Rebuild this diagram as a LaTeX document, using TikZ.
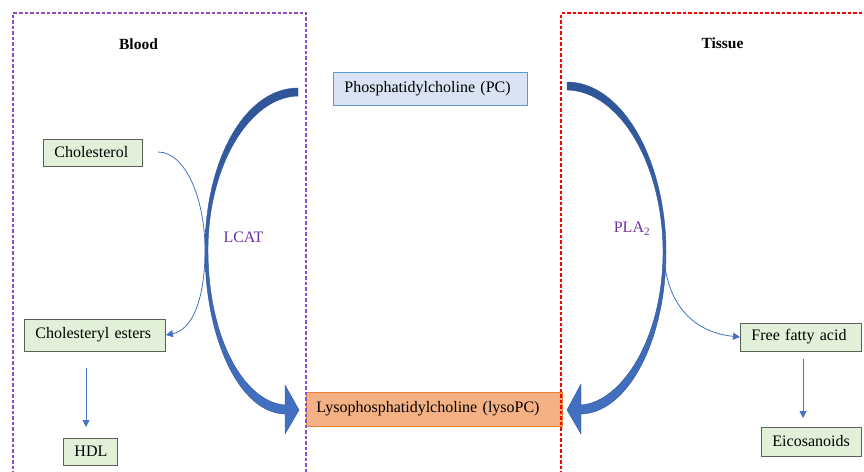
\documentclass[tikz,border=0pt]{standalone}
\usepackage{fontspec}
\setmainfont{Liberation Serif}
\usetikzlibrary{arrows.meta}
\definecolor{greenfill}{HTML}{E2F0D9}
\definecolor{greenline}{HTML}{5A5F58}
\definecolor{pcfill}{HTML}{DAE3F3}
\definecolor{pcline}{HTML}{5B9BD5}
\definecolor{lysofill}{HTML}{F4B183}
\definecolor{lysoline}{HTML}{ED7D31}
\definecolor{arrowblue}{HTML}{4472C4}
\definecolor{arrowdark}{HTML}{2F5597}
\definecolor{enzpurple}{HTML}{7030A0}
\definecolor{bloodline}{HTML}{8A4FC8}
\definecolor{tissueline}{HTML}{FF0000}
\tikzset{
  every node/.style={font=\fontsize{16}{19}\selectfont},
  gbox/.style={draw=greenline, fill=greenfill, line width=0.9pt, anchor=west,
    inner xsep=11pt, inner ysep=0pt, align=left},
  thinarrow/.style={draw=arrowblue, line width=0.8pt, -{Triangle[length=7pt,width=7pt]}},
  bigarrow/.style={draw=arrowdark, line width=0.4pt, top color=arrowdark, bottom color=arrowblue, shading angle=0},
  enz/.style={text=enzpurple},
  title/.style={font=\fontsize{15.5}{18}\selectfont\bfseries},
  compartment/.style={line width=1.2pt, dash pattern=on 3.5pt off 2pt},
}
\begin{document}
\begin{tikzpicture}[x=1pt,y=-1pt]
\useasboundingbox (0,0) rectangle (864,471);
% boxes
\node[gbox, text width=77pt, minimum height=27pt] (chol) at (43,152.5) {Cholesterol};
\node[gbox, text width=119pt, minimum height=32pt] (ester) at (24,335) {Cholesteryl esters};
\node[gbox, text width=32pt, minimum height=27pt] (hdl) at (63,451.5) {HDL};
\node[gbox, text width=99pt, minimum height=28pt] (ffa) at (740,337) {Free fatty acid};
\node[gbox, text width=78pt, minimum height=29pt] (eico) at (761,441.5) {Eicosanoids};
\node[draw=pcline, fill=pcfill, line width=0.9pt, anchor=west, inner xsep=11pt, inner ysep=0pt,
  text width=172pt, align=left, minimum height=33pt] (pc) at (333,88.5) {Phosphatidylcholine (PC)};
\node[draw=lysoline, fill=lysofill, line width=0.9pt, anchor=west, inner xsep=10pt, inner ysep=0pt,
  text width=236pt, align=left, minimum height=34pt] (lyso) at (306,409) {Lysophosphatidylcholine (lysoPC)};
% big curved arrows
\path[bigarrow] (298,88) .. controls (245,88) and (205,160) .. (205,250)
  .. controls (205,340) and (240,413) .. (285,414) -- (285,434) -- (299,410) -- (285,385) -- (285,405)
  .. controls (244,402) and (208,338) .. (208,250)
  .. controls (208,165) and (250,97) .. (298,96) -- cycle;
\path[bigarrow] (567,82) .. controls (622,82) and (666,160) .. (666,252)
  .. controls (666,340) and (628,413) .. (581,414) -- (581,434) -- (567,410) -- (581,384) -- (581,405)
  .. controls (622,402) and (663,338) .. (663,252)
  .. controls (663,165) and (620,91) .. (567,90) -- cycle;
% thin connectors
\coordinate (cholstart) at (158,152);
\coordinate (ffastart) at (664,255);
\coordinate (esterdown) at (86,368);
\coordinate (hdlup) at (86,427);
\coordinate (ffadown) at (803,359);
\coordinate (eicoup) at (803,418);
\draw[thinarrow] (cholstart) .. controls (186,152) and (205,200) .. (205,250)
  .. controls (205,300) and (192,330) .. (ester.east);
\draw[thinarrow] (ffastart) .. controls (666,300) and (690,332) .. (ffa.west);
\draw[thinarrow] (esterdown) -- (hdlup);
\draw[thinarrow] (ffadown) -- (eicoup);
% labels
\node[enz] (lcat) at (243.5,237) {LCAT};
\node[enz] (pla) at (632,229) {PLA\textsubscript{2}};
\node[title] (blood) at (138.5,44) {Blood};
\node[title] (tissue) at (722.5,43) {Tissue};
% compartments
\draw[compartment, draw=bloodline] (13,480) -- (13,13) -- (306,13) -- (306,480);
\draw[compartment, draw=tissueline] (561,480) -- (561,13) -- (870,13);
\end{tikzpicture}
\end{document}
